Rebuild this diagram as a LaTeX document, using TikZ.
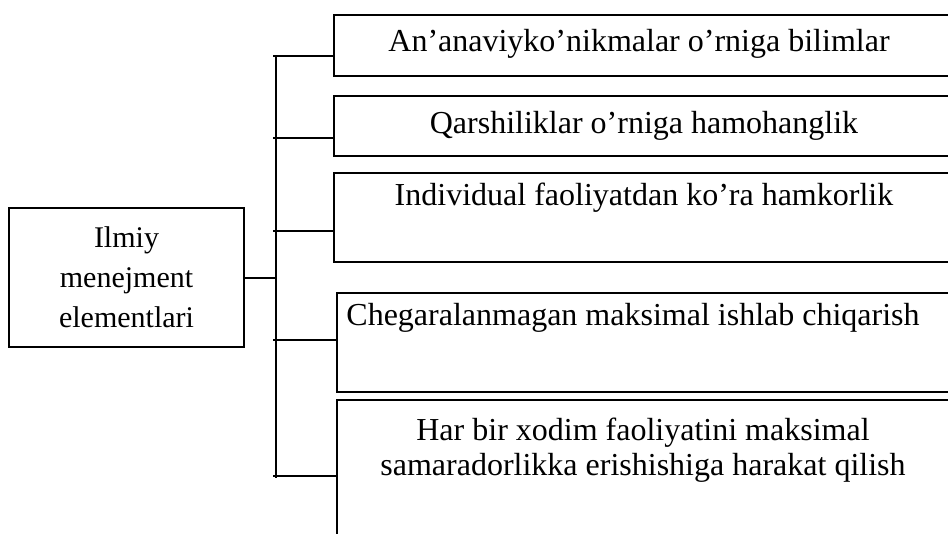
\documentclass[tikz,border=0pt]{standalone}
\usepackage{fontspec}
\setmainfont{Liberation Serif}
\begin{document}
\begin{tikzpicture}[x=1pt,y=-1pt,
  box/.style={draw,line width=2pt,rectangle,inner sep=0pt,anchor=north west},
  openbox/.style={rectangle,inner sep=0pt,anchor=north west,minimum width=700pt},
  lbl/.style={font=\fontsize{32}{35}\selectfont,align=center,inner sep=0pt},
  link/.style={line width=2pt}]
\useasboundingbox (0,0) rectangle (948,533);
\clip (0,0) rectangle (948,533);
% root box
\node[box,minimum width=235pt,minimum height=139pt] (root) at (8,207) {};
\node[lbl,font=\fontsize{30}{40}\selectfont] (rootlbl) at (root.center) {Ilmiy\\menejment\\elementlari};
% branch boxes, open on the right side
\node[openbox,minimum height=61pt] (b1) at (334,15) {};
\node[openbox,minimum height=60pt] (b2) at (334,96) {};
\node[openbox,minimum height=89pt] (b3) at (334,173) {};
\node[openbox,minimum height=99pt] (b4) at (337,293) {};
\node[openbox,minimum height=160pt] (b5) at (337,400) {};
\foreach \b in {b1,b2,b3,b4,b5}
  \draw[link] (\b.north east) -- (\b.north west) -- (\b.south west) -- (\b.south east);
% box captions
\node[lbl] (t1) at (639,44) {An’anaviyko’nikmalar o’rniga bilimlar};
\node[lbl] (t2) at (644,126) {Qarshiliklar o’rniga hamohanglik};
\node[lbl] (t3) at (644,198) {Individual faoliyatdan ko’ra hamkorlik};
\node[lbl] (t4) at (633,318) {Chegaralanmagan maksimal ishlab chiqarish};
\node[lbl] (t5) at (643,450) {Har bir xodim faoliyatini maksimal\\samaradorlikka erishishiga harakat qilish};
% trunk and branches
\coordinate (top) at (276,56);
\coordinate (bot) at (276,478);
\coordinate (j1) at (273,56);
\coordinate (j2) at (273,138);
\coordinate (j3) at (273,231);
\coordinate (j4) at (273,340);
\coordinate (j5) at (273,476);
\draw[link] (top) -- (bot);
\draw[link] (root.east) -- (root.east -| top);
\draw[link] (j1) -- (j1 -| b1.west);
\draw[link] (j2) -- (j2 -| b2.west);
\draw[link] (j3) -- (j3 -| b3.west);
\draw[link] (j4) -- (j4 -| b4.west);
\draw[link] (j5) -- (j5 -| b5.west);
\end{tikzpicture}
\end{document}
